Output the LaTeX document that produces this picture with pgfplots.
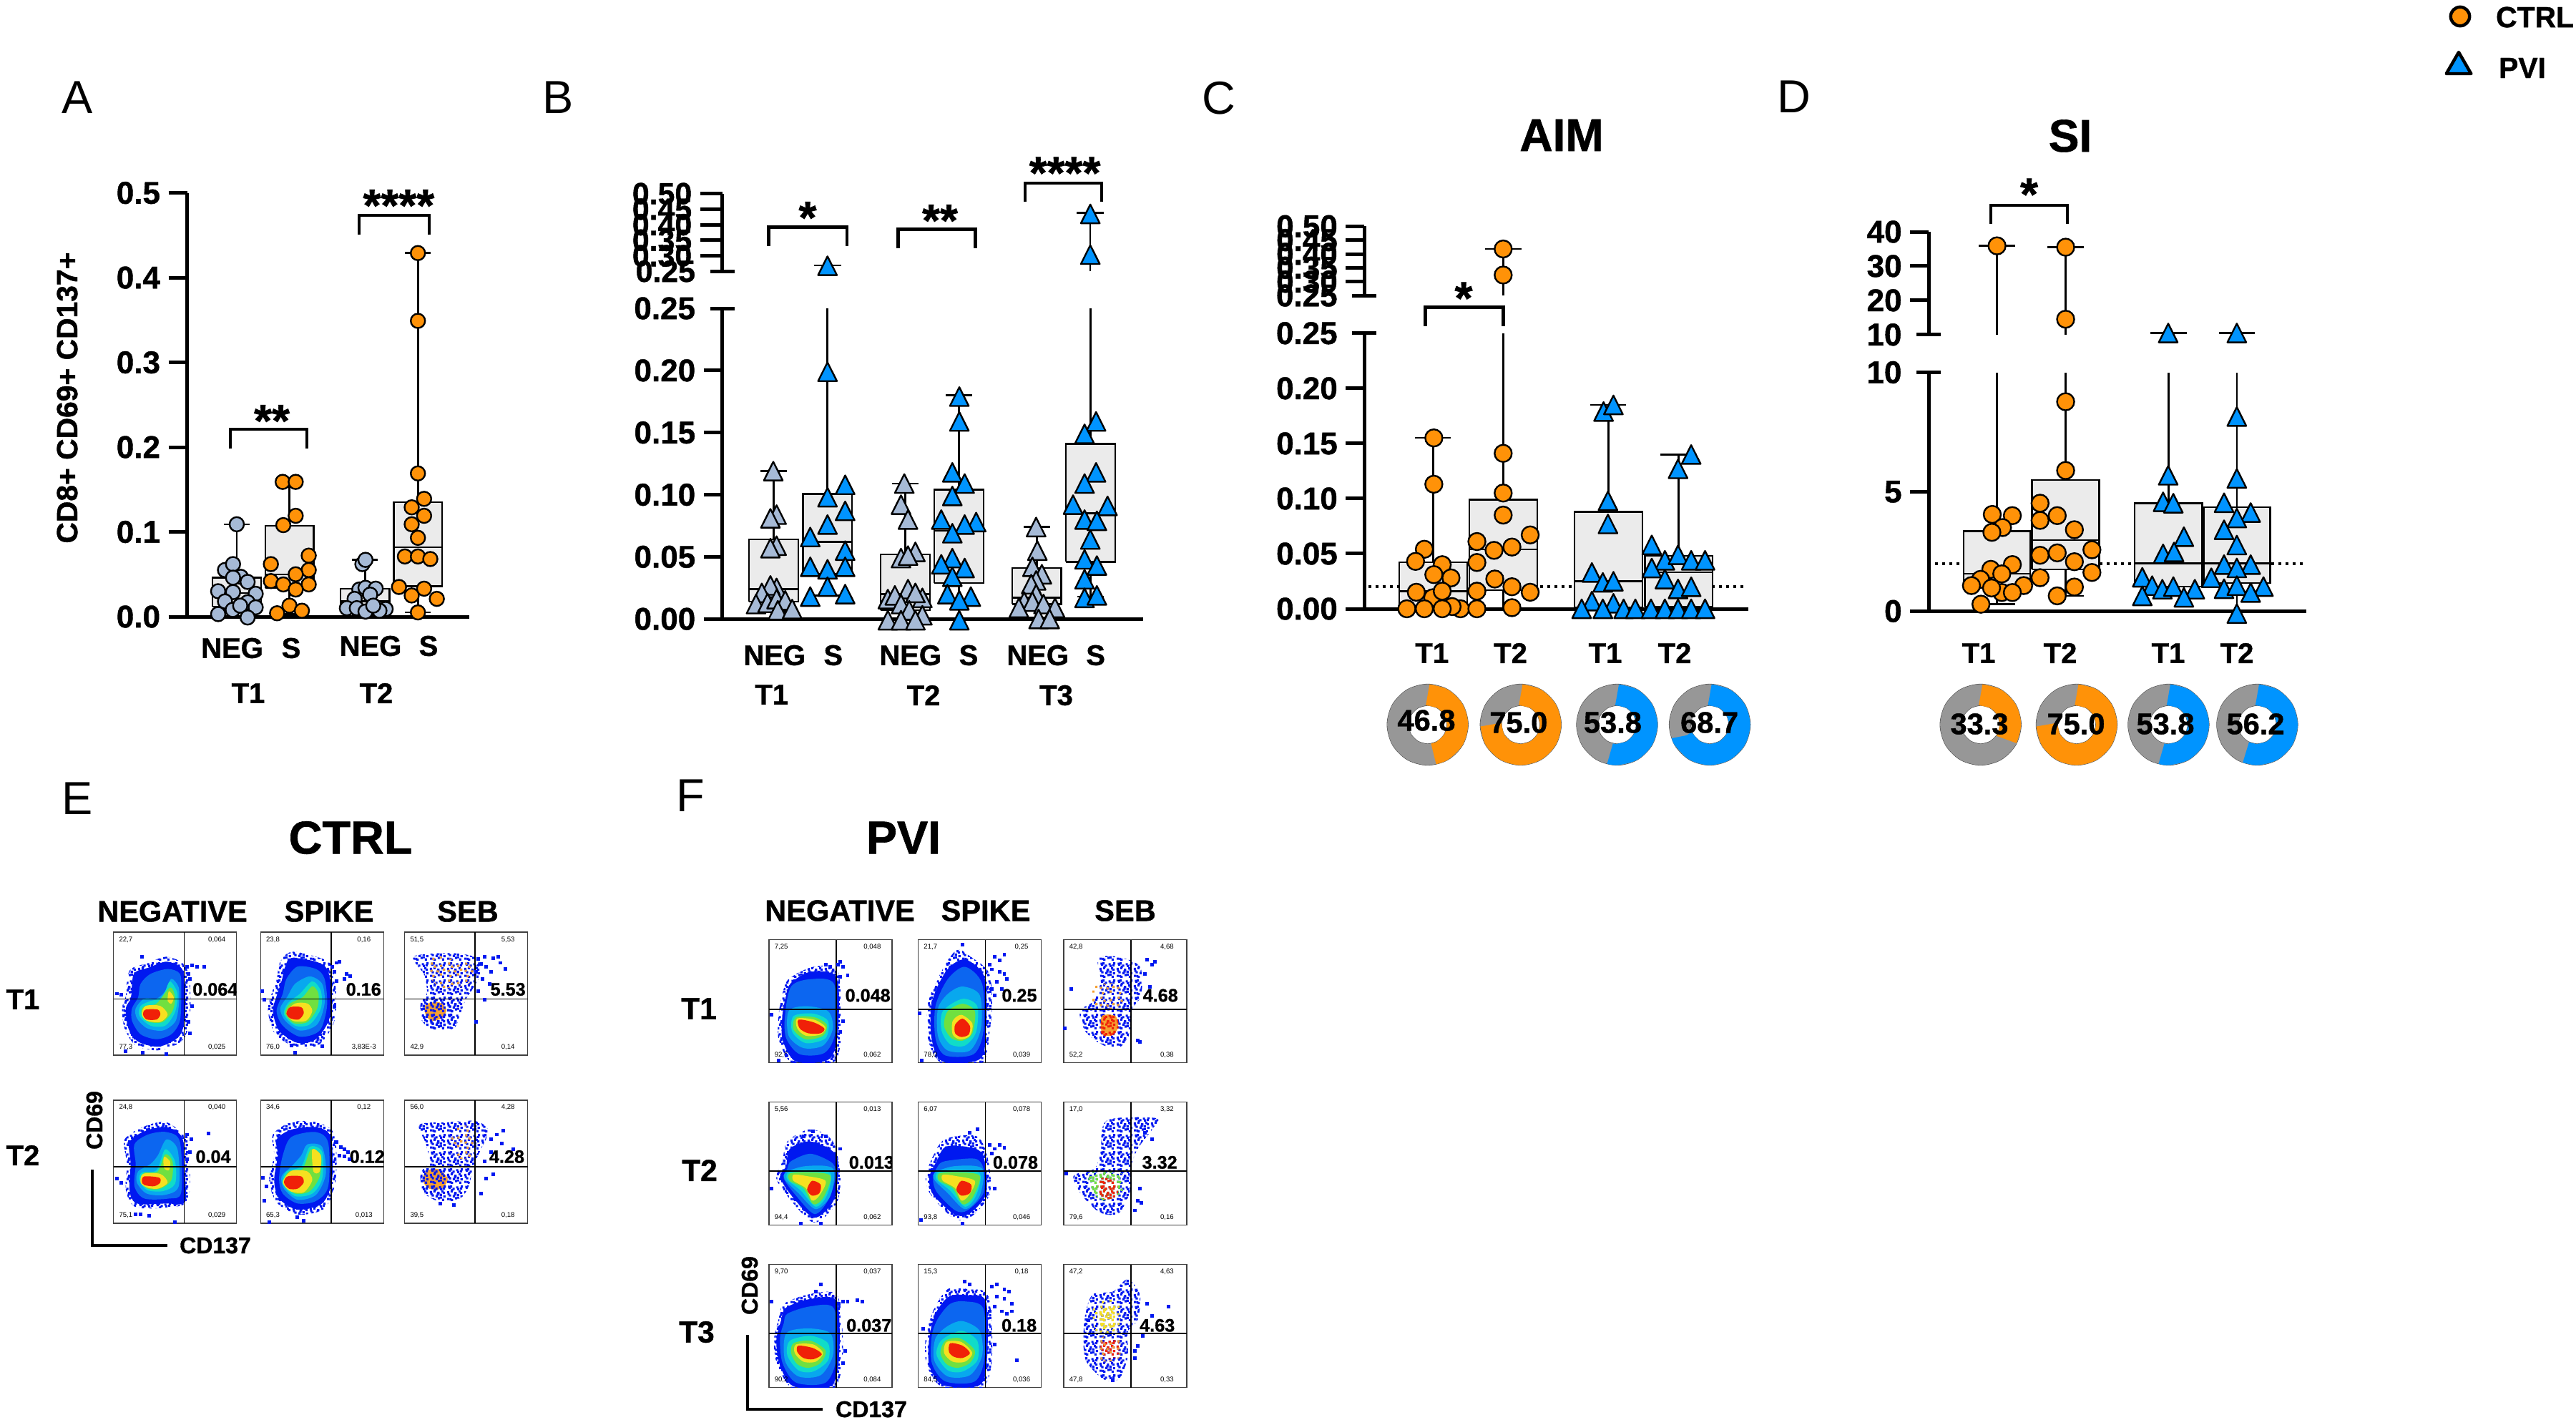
\documentclass[border=0pt]{standalone}
\usepackage{fontspec}
\setmainfont{Liberation Sans}[BoldFeatures={FakeBold=1}]
\usepackage{pgfplots}
\usepackage{pgfplotstable}
\pgfplotsset{compat=1.18}
\usetikzlibrary{patterns}

\definecolor{ctrl}{HTML}{FF9208}
\definecolor{pvi}{HTML}{0094FF}
\definecolor{slate}{HTML}{A6BAD6}
\definecolor{boxg}{HTML}{EBEBEB}
\definecolor{ringg}{HTML}{979797}
\definecolor{jb}{HTML}{0018F0}
\definecolor{mb}{HTML}{0C66F0}
\definecolor{lb}{HTML}{08A8EE}
\definecolor{cy}{HTML}{10DCC8}
\definecolor{gr}{HTML}{70E040}
\definecolor{yl}{HTML}{F6E020}
\definecolor{rd}{HTML}{F02008}
\definecolor{og}{HTML}{F5A030}

% speckle for the sparse cytometry clouds
\newcommand\sq[2]{\pgfpathrectangle{\pgfqpoint{#1pt}{#2pt}}{\pgfqpoint{.8pt}{.8pt}}}
\pgfdeclarepatternformonly{speck}{\pgfqpoint{0pt}{0pt}}{\pgfqpoint{6pt}{6pt}}{\pgfqpoint{6pt}{6pt}}{%
 \sq{.3}{.6}\sq{1.6}{.2}\sq{3.1}{.9}\sq{4.6}{.3}\sq{.9}{1.9}\sq{2.3}{1.6}\sq{3.8}{2.1}\sq{5.1}{1.5}%
 \sq{.2}{3.1}\sq{1.5}{3.4}\sq{2.9}{2.8}\sq{4.4}{3.3}\sq{.8}{4.6}\sq{2.2}{4.3}\sq{3.5}{4.8}\sq{4.9}{4.4}%
 \sq{1.3}{5.1}\sq{5.2}{5.1}\pgfusepath{fill}}
\pgfdeclarepatternformonly{speckb}{\pgfqpoint{0pt}{0pt}}{\pgfqpoint{6pt}{6pt}}{\pgfqpoint{6pt}{6pt}}{%
 \sq{1.1}{.5}\sq{3.8}{1.1}\sq{.4}{2.4}\sq{2.7}{2.2}\sq{4.9}{2.8}\sq{1.7}{3.9}\sq{3.9}{4.2}\sq{.6}{5}%
 \pgfusepath{fill}}

\newcommand\fs[1]{\fontsize{#1}{#1}\selectfont}

\pgfplotsset{
 pxat/.style 2 args={at={(#1*.25pt,-#2*.25pt)}},
 panel/.style={scale only axis,anchor=south west,clip=false,
  axis y line=left,axis x line=bottom,axis line style={-,line width=1.25pt},
  xtick=\empty,tick align=outside,major tick length=6.5pt,scaled y ticks=false,
  ytick style={line width=1.25pt,black},
  y tick label style={font=\fs{11}\bfseries,inner xsep=2.7pt,
   /pgf/number format/assume math mode=true,/pgf/number format/fixed,
   /pgf/number format/fixed zerofill}},
 top/.style={panel,axis x line=none},
 pr/.style={y tick label style={/pgf/number format/precision=#1}},
 brk/.style={extra y ticks={#1},
   extra y tick style={tick align=center,major tick length=8.5pt,
    y tick label style={xshift=-2.3pt}}},
 mk/.style n args={3}{only marks,mark=#1,mark size=#2,
   mark options={fill=#3,draw=black,line width=.6pt}},
 tri/.style={only marks,mark=triangle*,mark size=3.8pt,
   mark options={fill=#1,draw=black,line width=.6pt,yshift=-1.1pt,yscale=1.15,line join=round}},
 wh/.style={black,line width=.65pt},
 brace/.style={black,line width=1.1pt,miter limit=10},
 dotted0/.style={black,line width=1pt,dash pattern=on 1pt off 1.5pt},
 flow/.style={scale only axis,anchor=south west,width=43pt,height=43pt,
   xmin=0,xmax=100,ymin=0,ymax=100,xtick=\empty,ytick=\empty,
   axis line style={line width=.35pt,black!75}}
}

% box from its quartiles: [cap share]{centre}{width}{low}{q1}{median}{q3}{high}
\newcommand\bx[8][.53]{%
 \pgfmathsetmacro\xa{#2-#3/2}\pgfmathsetmacro\xb{#2+#3/2}%
 \pgfmathsetmacro\ca{#2-#1*#3/2}\pgfmathsetmacro\cb{#2+#1*#3/2}%
 \edef\tmp{%
  \noexpand\addplot[wh] coordinates {(#2,#4)(#2,#5)};
  \noexpand\addplot[wh] coordinates {(#2,#7)(#2,#8)};
  \noexpand\addplot[wh] coordinates {(\ca,#4)(\cb,#4)};
  \noexpand\addplot[wh] coordinates {(\ca,#8)(\cb,#8)};
  \noexpand\addplot[draw=black,fill=boxg,line width=.6pt] coordinates {(\xa,#5)(\xb,#5)(\xb,#7)(\xa,#7)(\xa,#5)};
  \noexpand\addplot[black,line width=.6pt] coordinates {(\xa,#6)(\xb,#6)};
 }\tmp}
\newcommand\cp[3]{\addplot[wh] coordinates {(#1,#3)(#2,#3)};}
\newcommand\vl[3]{\addplot[wh] coordinates {(#1,#2)(#1,#3)};}
% text placed by its pixel in the reference
\newcommand\nd[4][]{\node[#1] at (#2*.25pt,-#3*.25pt) {#4};}
\newcommand\lab[4]{\nd[font={\fs{#3}\bfseries}]{#1}{#2}{#4}}
\newcommand\sig[3]{\nd[anchor=base,yshift=2.2pt,font={\fs{16}\bfseries}]{#1}{#2}{#3}}

\newcommand\blob[2]{\addplot[fill=#1,draw=none,smooth cycle] coordinates {#2};}
\newcommand\spb[2]{\addplot[pattern=speckb,pattern color=#1,draw=none,smooth cycle] coordinates {#2};}
\newcommand\spk[2]{\addplot[pattern=speck,pattern color=#1,draw=none,smooth cycle] coordinates {#2};\spb{#1}{#2}}
\newcommand\dt[2]{\addplot[only marks,mark=square*,mark size=.42pt,color=#1] coordinates {#2};}
\newcommand\qd[7]{%
 \addplot[black,line width=.45pt] coordinates {(#1,0)(#1,100)};
 \addplot[black,line width=.45pt] coordinates {(0,#2)(100,#2)};
 \node[font=\fs{2.4}] at (10,94) {#3};
 \node[font=\fs{2.4}] at (84,94) {#4};
 \node[font=\fs{2.4}] at (10,6.5) {#5};
 \node[font=\fs{2.4}] at (84,6.5) {#6};
 \qdbig#7}
\newcommand\qdbig[3]{\node[font={\fs{6.3}\bfseries}] at (#2,#3) {#1};}

\pgfplotstableread{
a r
0 41.75
30 41.75
60 41.75
90 41.75
120 41.75
150 41.75
180 41.75
210 41.75
240 41.75
270 41.75
300 41.75
330 41.75
}\ringtab
\newcommand\donut[4]{%
\begin{axis}[hide axis,scale only axis,anchor=center,pxat={#1}{#2},width=28.25pt,height=28.25pt,
  xmin=-56.5,xmax=56.5,ymin=-56.5,ymax=56.5,clip=false]
 \addplot[data cs=polar,smooth cycle,black!70,line width=7.7pt] table[x=a,y=r] {\ringtab};
 \addplot[data cs=polar,smooth cycle,ringg,line width=7.4pt] table[x=a,y=r] {\ringtab};
 \addplot[data cs=polar,smooth,#3,line width=7.4pt] coordinates {#4};
\end{axis}}

\begin{document}
\begin{tikzpicture}
\path[use as bounding box] (0,0) rectangle (900.25pt,-498pt);

% ---------- A ----------
\begin{axis}[panel,pr=1,pxat={261.6}{862},width=98.65pt,height=148.1pt,
  xmin=465,xmax=1375,ymin=0,ymax=.5,ytick={0,.1,.2,.3,.4,.5}]
\bx{625}{156}{0}{.012}{.028}{.046}{.109}
\bx{795}{156}{.003}{.034}{.05}{.107}{.159}
\bx{1038.5}{157}{.003}{.006}{.018}{.033}{.067}
\bx{1209.5}{156}{.005}{.036}{.082}{.135}{.429}
\addplot[mk={*}{2.5pt}{slate}] coordinates {(625,.109)(587,.055)(638,.047)(613,.062)(613,.046)(660,.041)(565,.030)(613,.029)(686,.027)(587,.018)(660,.017)(686,.011)(612,.008)(636,.013)(565,.003)(660,-.001)};
\addplot[mk={*}{2.5pt}{ctrl}] coordinates {(773,.159)(815,.159)(815,.119)(775,.108)(735,.062)(857,.072)(857,.055)(815,.05)(735,.042)(775,.038)(857,.038)(815,.032)(795,.013)(755,.004)(835,.007)};
\addplot[mk={*}{2.5pt}{slate}] coordinates {(1030,.062)(1040,.067)(1020,.032)(1040,.034)(1073,.033)(1055,.026)(1005,.021)(980,.010)(1012,.010)(1105,.009)(1085,.007)(1040,.006)(1065,.013)};
\addplot[mk={*}{2.5pt}{ctrl}] coordinates {(1209,.429)(1209,.349)(1209,.169)(1229,.139)(1189,.129)(1229,.119)(1189,.109)(1209,.093)(1167,.071)(1209,.071)(1249,.068)(1148,.035)(1229,.033)(1189,.025)(1270,.021)(1209,.005)};
\addplot[brace] coordinates {(604,.198)(604,.2213)(851,.2213)(851,.198)};
\addplot[brace] coordinates {(1020,.451)(1020,.4733)(1246,.4733)(1246,.451)};
\end{axis}
\sig{380}{619}{**}
\sig{557.4}{318}{****}
\nd[rotate=90,font={\fs{10.2}\bfseries}]{94}{556}{CD8+ CD69+ CD137+}
\lab{324.5}{906}{10}{NEG}\lab{407}{906}{10}{S}\lab{518}{903}{10}{NEG}\lab{599}{903}{10}{S}
\lab{347}{969}{10}{T1}\lab{526}{969}{10}{T2}

% ---------- B ----------
\begin{axis}[panel,pr=2,pxat={1009.8}{865.2},width=147.1pt,height=108.55pt,
  xmin=470,xmax=1495,ymin=0,ymax=.25,ytick={0,.05,.1,.15,.2},brk=.25]
\bx{595}{120}{.006}{.014}{.024}{.064}{.119}
\bx[0]{726}{120}{.019}{.036}{.062}{.1007}{.25}
\cp{690}{760}{.019}
\bx{915}{120}{0}{.007}{.02}{.052}{.109}
\bx{1046}{120}{0}{.029}{.071}{.104}{.18}
\bx{1235.5}{120}{.001}{.012}{.017}{.041}{.074}
\bx[0]{1366.5}{120}{.018}{.046}{.085}{.141}{.25}
\cp{1335}{1398}{.018}
\addplot[tri=slate] coordinates {(594,.119)(602,.084)(587,.081)(602,.059)(587,.057)(602,.025)(587,.027)(566,.021)(552,.012)(580,.013)(602,.016)(623,.015)(605,.007)(640,.008)};
\addplot[tri=pvi] coordinates {(726,.199)(769,.108)(726,.098)(769,.087)(726,.076)(684,.066)(769,.055)(684,.042)(726,.040)(769,.042)(726,.026)(684,.018)(769,.020)};
\addplot[tri=slate] coordinates {(913,.109)(905,.092)(922,.080)(940,.054)(905,.049)(922,.051)(922,.024)(873,.016)(890,.019)(957,.017)(940,.021)(905,.012)(925,.007)(957,.003)(873,-.001)(905,-.001)(940,-.001)};
\addplot[tri=pvi] coordinates {(1047,.179)(1047,.159)(1030,.118)(1060,.109)(1030,.099)(1003,.080)(1088,.078)(1060,.076)(1030,.069)(1030,.049)(1003,.044)(1060,.041)(1030,.034)(1018,.020)(1075,.018)(1047,.015)(1047,-.001)};
\addplot[tri=slate] coordinates {(1234,.074)(1237,.055)(1225,.042)(1248,.036)(1234,.031)(1222,.028)(1234,.02)(1205,.014)(1225,.014)(1252,.012)(1192,.009)(1280,.009)(1240,.000)(1267,.000)};
\addplot[tri=pvi] coordinates {(1380,.159)(1352,.149)(1380,.118)(1352,.109)(1324,.092)(1408,.091)(1352,.080)(1382,.079)(1366,.064)(1352,.048)(1382,.043)(1352,.032)(1352,.017)(1382,.019)};
\end{axis}
\begin{axis}[top,pr=2,y tick label style={font=\fs{10.7}\bfseries},major tick length=7.75pt,pxat={1009.8}{379.3},width=147.1pt,height=27.15pt,
  xmin=470,xmax=1495,ymin=.25,ymax=.5,ytick={.3,.35,.4,.45,.5},brk=.25]
\vl{726}{.25}{.269}\cp{693}{760}{.269}
\vl{1366}{.25}{.438}\cp{1333}{1398}{.438}
\addplot[tri=pvi] coordinates {(726,.268)(1366,.435)(1366,.304)};
\addplot[brace] coordinates {(583,.331)(583,.392)(773,.392)(773,.331)};
\addplot[brace] coordinates {(898,.324)(898,.385)(1086,.385)(1086,.324)};
\addplot[brace] coordinates {(1207,.473)(1207,.534)(1394,.534)(1394,.473)};
\end{axis}
\sig{1129}{335}{*}\sig{1314}{339}{**}\sig{1488.6}{272.5}{****}
\lab{1082.7}{916}{10}{NEG}\lab{1164.8}{916}{10}{S}\lab{1272.7}{916}{10}{NEG}\lab{1354}{916}{10}{S}
\lab{1450.7}{916}{10}{NEG}\lab{1531.6}{916}{10}{S}
\lab{1078.7}{971}{10}{T1}\lab{1291}{972}{10}{T2}\lab{1476.5}{972}{10}{T3}

% ---------- C ----------
\begin{axis}[panel,pr=2,pxat={1907.4}{851},width=134.2pt,height=96.3pt,
  xmin=485,xmax=1537,ymin=0,ymax=.25,ytick={0,.05,.1,.15,.2},brk=.25]
\addplot[dotted0] coordinates {(495,.02)(1525,.02)};
\bx{673}{186}{0}{.002}{.016}{.042}{.155}
\bx[0]{865}{186}{.001}{.017}{.054}{.099}{.25}
\bx{1153}{186}{0}{.001}{.025}{.088}{.185}
\bx{1345.5}{185}{0}{.002}{.033}{.048}{.14}
\addplot[mk={*}{3pt}{ctrl}] coordinates {(675,.155)(675,.113)(649,.054)(625,.043)(698,.040)(722,.028)(675,.031)(627,.015)(672,.01)(698,.016)(748,0)(725,.002)(601,0)(649,0)(698,0)};
\addplot[mk={*}{3pt}{ctrl}] coordinates {(865,.141)(865,.105)(865,.085)(793,.061)(939,.067)(840,.053)(889,.056)(793,.042)(842,.027)(793,.016)(889,.020)(939,.015)(793,0)(889,.001)};
\addplot[tri=pvi] coordinates {(1140,.179)(1167,.185)(1152,.098)(1152,.077)(1108,.033)(1138,.024)(1167,.025)(1108,.007)(1167,.005)(1080,0)(1138,0)(1195,0)(1227,0)};
\addplot[tri=pvi] coordinates {(1380,.14)(1344,.127)(1272,.058)(1308,.044)(1344,.049)(1380,.044)(1418,.044)(1272,.037)(1308,.027)(1344,.018)(1380,.020)(1270,0)(1308,0)(1344,0)(1380,0)(1418,0)};
\addplot[brace] coordinates {(652,.2563)(652,.2736)(865,.2736)(865,.2563)};
\end{axis}
\begin{axis}[top,pr=2,pxat={1907.4}{413.1},width=134.2pt,height=24.2pt,
  xmin=485,xmax=1537,ymin=.25,ymax=.5,ytick={.3,.35,.4,.45,.5},brk=.25]
\vl{865}{.25}{.418}\cp{815}{915}{.418}
\addplot[mk={*}{3pt}{ctrl}] coordinates {(865,.418)(865,.324)};
\end{axis}
\sig{2046}{447.5}{*}
\lab{2001.8}{913}{10}{T1}\lab{2111.5}{913}{10}{T2}\lab{2244}{913}{10}{T1}\lab{2341}{913}{10}{T2}
\donut{1995.7}{1013}{ctrl}{(90,41.75)(60,41.75)(30,41.75)(0,41.75)(-30,41.75)(-60,41.75)(-78.5,41.75)}
\donut{2125.8}{1013}{ctrl}{(90,41.75)(60,41.75)(30,41.75)(0,41.75)(-30,41.75)(-60,41.75)(-90,41.75)(-120,41.75)(-150,41.75)(-180,41.75)}
\donut{2260.5}{1013}{pvi}{(90,41.75)(60,41.75)(30,41.75)(0,41.75)(-30,41.75)(-60,41.75)(-90,41.75)(-103.7,41.75)}
\donut{2390.1}{1013}{pvi}{(90,41.75)(60,41.75)(30,41.75)(0,41.75)(-30,41.75)(-60,41.75)(-90,41.75)(-120,41.75)(-150,41.75)(-157.3,41.75)}
\lab{1994}{1007}{10.4}{46.8}\lab{2122.8}{1010}{10.4}{75.0}\lab{2254.4}{1010}{10.4}{53.8}\lab{2389.6}{1010}{10.4}{68.7}

% ---------- D ----------
\begin{axis}[panel,pr=0,pxat={2696.2}{854.3},width=131.9pt,height=83.45pt,
  xmin=463,xmax=1497,ymin=0,ymax=10,ytick={0,5},brk=10]
\addplot[dotted0] coordinates {(480,2)(1490,2)};
\bx[0]{650}{182}{.29}{1.03}{1.56}{3.35}{10}
\cp{605}{700}{.29}
\bx[0]{838}{184}{.64}{1.75}{2.98}{5.5}{10}
\cp{838}{888}{.64}
\bx[0]{1119.5}{185}{.68}{1.03}{2}{4.52}{10}
\cp{1075}{1165}{.68}
\bx[0]{1307.5}{181}{0}{1.17}{2}{4.35}{10}
\addplot[mk={*}{3pt}{ctrl}] coordinates {(637,4.05)(692,4.0)(665,3.5)(636,3.3)(692,1.95)(633,1.75)(605,1.33)(663,1.56)(580,1.07)(723,1.07)(663,.78)(635,.97)(692,.78)(606,.29)};
\addplot[mk={*}{3pt}{ctrl}] coordinates {(838,8.77)(838,5.89)(768,4.52)(768,3.8)(815,4.0)(862,3.41)(768,2.34)(815,2.44)(910,2.57)(862,2.07)(768,1.4)(910,1.62)(862,1.01)(815,.64)};
\addplot[tri=pvi] coordinates {(1119,5.69)(1105,4.58)(1133,4.52)(1162,3.12)(1105,2.4)(1135,2.48)(1048,1.42)(1075,1.07)(1103,.92)(1133,1.03)(1192,.92)(1048,.64)(1162,.58)};
\addplot[tri=pvi] coordinates {(1307,8.15)(1307,5.56)(1272,4.54)(1345,4.13)(1307,3.9)(1272,3.41)(1307,2.77)(1272,1.95)(1345,1.95)(1307,1.81)(1237,1.4)(1272,.94)(1307,1.07)(1380,1.03)(1345,.78)(1307,-.1)};
\end{axis}
\begin{axis}[top,pr=0,pxat={2696.2}{467.8},width=131.9pt,height=35.95pt,
  xmin=463,xmax=1497,ymin=10,ymax=40,ytick={20,30,40},brk=10]
\vl{650}{10}{35.9}\cp{600}{700}{35.9}
\vl{838}{10}{35.5}\cp{788}{888}{35.5}
\vl{1119}{10}{10.5}\cp{1070}{1170}{10.5}
\vl{1307}{10}{10.5}\cp{1258}{1357}{10.5}
\addplot[mk={*}{3pt}{ctrl}] coordinates {(650,35.9)(838,35.5)(838,14.5)};
\addplot[tri=pvi] coordinates {(1119,10.5)(1307,10.5)};
\addplot[brace] coordinates {(633,42.4)(633,47.7)(843,47.7)(843,42.4)};
\end{axis}
\sig{2836.5}{302.4}{*}
\lab{2766}{913}{10}{T1}\lab{2880}{913}{10}{T2}\lab{3031}{913}{10}{T1}\lab{3127}{913}{10}{T2}
\donut{2768.7}{1013}{ctrl}{(90,41.75)(60,41.75)(30,41.75)(0,41.75)(-29.9,41.75)}
\donut{2902.9}{1013}{ctrl}{(90,41.75)(60,41.75)(30,41.75)(0,41.75)(-30,41.75)(-60,41.75)(-90,41.75)(-120,41.75)(-150,41.75)(-180,41.75)}
\donut{3031.4}{1013}{pvi}{(90,41.75)(60,41.75)(30,41.75)(0,41.75)(-30,41.75)(-60,41.75)(-90,41.75)(-103.7,41.75)}
\donut{3155.4}{1013}{pvi}{(90,41.75)(60,41.75)(30,41.75)(0,41.75)(-30,41.75)(-60,41.75)(-90,41.75)(-112.3,41.75)}
\lab{2767}{1012}{10.4}{33.3}\lab{2902}{1012}{10.4}{75.0}\lab{3027}{1012}{10.4}{53.8}\lab{3153}{1012}{10.4}{56.2}

% ---------- legend ----------
\begin{axis}[hide axis,scale only axis,anchor=south west,pxat={3400}{120},width=20pt,height=30pt,
  xmin=3400,xmax=3480,ymin=0,ymax=120,y dir=reverse,clip=false]
\addplot[only marks,mark=*,mark size=3.3pt,mark options={fill=ctrl,draw=black,line width=1.1pt}] coordinates {(3439,23)};
\addplot[only marks,mark=triangle*,mark size=5pt,mark options={fill=pvi,draw=black,line width=1.1pt,line join=round}] coordinates {(3437,93)};
\end{axis}
\nd[anchor=west,font={\fs{10.2}\bfseries}]{3475}{24}{CTRL}
\nd[anchor=west,font={\fs{10.2}\bfseries}]{3479}{95}{PVI}

% ---------- panel letters and titles ----------
\nd[font=\fs{16.2}]{108}{136}{A}
\nd[font=\fs{16.2}]{780}{136}{B}
\nd[font=\fs{16.2}]{1704}{137}{C}
\nd[font=\fs{16.2}]{2508}{135}{D}
\nd[font=\fs{16.2}]{108}{1116}{E}
\nd[font=\fs{16.2}]{965}{1112}{F}
\lab{2183}{189}{16}{AIM}\lab{2894}{190}{16}{SI}
\lab{490}{1171}{16.2}{CTRL}\lab{1263}{1171}{16.2}{PVI}
\lab{241}{1274}{10.4}{NEGATIVE}\lab{460}{1274}{10.4}{SPIKE}\lab{654}{1274}{10.4}{SEB}
\lab{1174}{1273}{10.4}{NEGATIVE}\lab{1378}{1273}{10.4}{SPIKE}\lab{1573}{1273}{10.4}{SEB}
\lab{32}{1397}{10}{T1}\lab{32}{1615}{10}{T2}
\lab{977}{1410}{10.6}{T1}\lab{978}{1636}{10.6}{T2}\lab{974}{1862}{10.6}{T3}
\nd[rotate=90,font={\fs{8}\bfseries}]{132}{1566}{CD69}
\lab{301}{1741}{8}{CD137}
\nd[rotate=90,font={\fs{8}\bfseries}]{1048}{1797}{CD69}
\lab{1218}{1970}{8}{CD137}
\begin{axis}[hide axis,scale only axis,anchor=south west,pxat={129}{1741},width=26.25pt,height=26.5pt,
  xmin=129,xmax=234,ymin=0,ymax=106,clip=false]
\addplot[black,line width=.9pt] coordinates {(129,106)(129,0)(234,0)};
\end{axis}
\begin{axis}[hide axis,scale only axis,anchor=south west,pxat={1045}{1970},width=26.25pt,height=26pt,
  xmin=1045,xmax=1150,ymin=0,ymax=104,clip=false]
\addplot[black,line width=.9pt] coordinates {(1045,104)(1045,0)(1150,0)};
\end{axis}

% ---------- E: CTRL cytometry ----------
\begin{axis}[flow,pxat={158.7}{1475}]
\spk{jb}{(43,80)(57,74)(62,60)(62,30)(56,12)(37,4)(18,8)(9,22)(7,38)(10,48)(11,60)(14,70)(28,75)}
\blob{jb}{(43,76)(55,71)(58,59)(58,30)(53,15)(37,7)(20,11)(12,22)(10,38)(14,46)(15,57)(17,67)(28,71)}
\blob{mb}{(44,70)(54,66)(55,50)(54,28)(47,17)(35,13)(22,17)(15,28)(15,38)(20,47)(22,58)(30,66)}
\blob{lb}{(47,62)(53,55)(53,40)(50,27)(40,20)(27,22)(19,30)(18,38)(25,46)(35,46)(42,52)}
\blob{cy}{(46,60)(52,50)(50,35)(42,24)(30,24)(21,32)(22,40)(30,44)(38,46)(42,52)}
\blob{gr}{(46,55)(50,47)(48,36)(40,27)(29,27)(23,33)(24,39)(35,42)}
\blob{yl}{(26,40)(38,40)(44,33)(38,27)(27,28)(23,33)}
\blob{yl}{(45,52)(49,47)(47,42)(44,44)}
\blob{rd}{(26,37)(36,37)(38,33)(35,29)(27,29)(24,33)}
\dt{jb}{(23,80)(60,72)(64,73)(68,72)(74,72)(61,66)(62,62)(3,50)(6,49)(61,27)(64,40)(62,18)(10,3)(24,2)(43,1)}
\qd{57.5}{45.7}{22,7}{0,064}{77,3}{0,025}{{0.064}{82.6}{53.5}}
\end{axis}
\begin{axis}[flow,pxat={364.3}{1475}]
\spk{jb}{(25,84)(45,80)(57,74)(61,55)(60,28)(48,9)(30,6)(12,17)(6,36)(9,50)(13,62)(16,76)}
\blob{jb}{(25,79)(45,76)(54,70)(57,55)(56,30)(45,13)(30,10)(15,20)(10,36)(13,48)(17,60)(20,72)}
\blob{mb}{(30,72)(45,70)(52,62)(54,40)(48,20)(32,15)(18,24)(13,36)(18,50)(21,62)}
\blob{lb}{(40,64)(50,58)(52,42)(46,25)(32,20)(20,28)(16,38)(22,48)(28,58)}
\blob{cy}{(42,60)(49,52)(49,38)(40,25)(28,24)(19,33)(22,42)(32,50)}
\blob{gr}{(42,56)(47,50)(46,38)(38,27)(27,26)(20,34)(24,42)(34,47)}
\blob{yl}{(28,42)(38,42)(42,36)(37,28)(26,28)(21,35)}
\blob{rd}{(24,39)(33,39)(35,34)(31,29)(24,30)(21,34)}
\dt{jb}{(58,72)(62,75)(64,76)(60,68)(70,66)(73,64)(68,62)(62,60)(1,52)(3,45)(60,40)(28,2)(50,7)(25,8)}
\qd{57.3}{45.7}{23,8}{0,16}{76,0}{3,83E-3}{{0.16}{83.7}{53.5}}
\end{axis}
\begin{axis}[flow,pxat={565.7}{1475}]
\spk{jb}{(9,81)(35,83)(56,80)(62,68)(56,55)(50,46)(45,33)(40,22)(25,20)(14,28)(13,42)(18,50)(16,65)(8,76)}
\spb{og}{(20,80)(40,78)(56,72)(52,58)(30,55)(20,65)}
\blob{og}{(17,41)(28,43)(34,37)(30,30)(22,28)(17,33)}
\spk{jb}{(15,45)(34,45)(40,34)(32,22)(18,24)(14,34)}
\dt{jb}{(60,78)(65,80)(72,79)(78,75)(82,70)(66,72)(70,68)(63,62)(69,58)(65,45)(60,52)(76,80)(58,68)(62,74)(58,27)}
\qd{57.3}{45.7}{51,5}{5,53}{42,9}{0,14}{{5.53}{84}{53.5}}
\end{axis}
\begin{axis}[flow,pxat={158.7}{1709.8}]
\spk{jb}{(43,82)(57,72)(61,66)(61,20)(45,13)(18,13)(10,27)(11,48)(9,68)(26,79)}
\blob{jb}{(43,78)(56,69)(58,40)(58,17)(43,16)(19,16)(13,27)(14,48)(13,66)(26,75)}
\blob{mb}{(43,74)(54,66)(55,25)(45,20)(25,20)(17,30)(18,48)(17,64)(28,72)}
\blob{lb}{(43,68)(52,60)(53,30)(42,23)(27,24)(19,33)(20,42)(30,48)(36,55)}
\blob{cy}{(42,60)(50,50)(50,32)(40,26)(27,27)(21,35)(23,41)(35,43)}
\blob{gr}{(42,56)(48,50)(47,35)(38,28)(28,28)(23,34)(25,41)(36,42)}
\blob{yl}{(24,40)(38,40)(44,33)(36,28)(27,29)(22,33)}
\blob{yl}{(41,54)(46,50)(45,43)(41,45)}
\blob{rd}{(25,38)(37,37)(38,33)(33,30)(25,31)(23,34)}
\dt{jb}{(60,72)(63,68)(77,73)(62,58)(60,52)(3,36)(6,33)(18,7)(22,7)(29,6)(50,1)}
\qd{57.5}{45.6}{24,8}{0,040}{75,1}{0,029}{{0.04}{81}{54}}
\end{axis}
\begin{axis}[flow,pxat={364.3}{1709.8}]
\spk{jb}{(25,82)(45,82)(60,72)(61,35)(52,12)(30,7)(13,17)(7,35)(11,55)(10,72)}
\blob{jb}{(25,76)(45,78)(57,70)(58,35)(50,16)(30,11)(15,20)(11,35)(14,55)(13,68)}
\blob{mb}{(25,70)(45,74)(55,65)(55,30)(45,18)(30,16)(18,24)(15,36)(18,55)}
\blob{lb}{(38,64)(50,62)(53,40)(45,23)(30,19)(19,28)(17,38)(25,46)(33,55)}
\blob{cy}{(40,62)(50,58)(50,36)(42,24)(28,22)(18,32)(21,42)(33,46)}
\blob{gr}{(41,60)(49,55)(48,38)(40,26)(28,24)(19,33)(23,42)(34,44)}
\blob{yl}{(27,43)(38,42)(42,35)(35,25)(24,26)(18,33)(22,40)}
\blob{yl}{(42,60)(49,55)(48,42)(43,42)}
\blob{rd}{(22,38)(33,38)(35,33)(30,28)(23,28)(19,33)}
\dt{jb}{(62,66)(65,62)(68,60)(71,58)(68,54)(64,55)(72,52)(2,37)(5,30)(3,18)(30,5)(7,1)(35,2)}
\qd{57.3}{45.6}{34,6}{0,12}{65,3}{0,013}{{0.12}{86.6}{54}}
\end{axis}
\begin{axis}[flow,pxat={565.7}{1709.8}]
\spk{jb}{(12,80)(35,82)(58,83)(68,75)(62,60)(56,47)(52,30)(45,20)(30,17)(15,25)(13,40)(20,50)(17,65)}
\spb{og}{(42,78)(52,78)(57,60)(50,52)(40,55)(38,68)}
\blob{og}{(17,42)(27,44)(35,36)(30,28)(20,28)(15,34)}
\spk{jb}{(15,44)(32,45)(38,34)(30,24)(16,26)}
\dt{jb}{(75,72)(80,75)(79,65)(88,60)(70,58)(72,40)(66,36)(62,24)(70,68)(65,50)(40,15)(29,16)}
\qd{57.3}{45.6}{56,0}{4,28}{39,5}{0,18}{{4.28}{83}{54}}
\end{axis}

% ---------- F: PVI cytometry ----------
\begin{axis}[flow,pxat={1074.9}{1485.7}]
\spk{jb}{(16,68)(36,78)(56,74)(59,26)(52,0)(20,-1)(8,19)(8,40)(11,56)}
\blob{jb}{(18,65)(34,74)(55,69)(56,26)(49,3)(22,1)(11,19)(11,39)(14,55)}
\blob{mb}{(18,62)(34,68)(53,64)(54,25)(45,8)(25,7)(14,20)(13,38)}
\blob{lb}{(16,42)(30,46)(48,42)(52,28)(44,14)(28,12)(16,22)}
\blob{cy}{(20,38)(36,40)(48,34)(46,20)(30,16)(19,25)}
\blob{gr}{(22,37)(37,37)(47,31)(44,22)(30,19)(20,27)}
\blob{yl}{(23,36)(37,35)(46,29)(42,23)(30,22)(23,28)}
\blob{rd}{(24,35)(36,33)(45,28)(42,24)(32,24)(25,28)}
\dt{jb}{(58,82)(60,78)(56,80)(64,71)(58,70)(46,80)(50,78)(2,39)(58,25)(60,34)(8,2)(14,6)}
\qd{54.6}{43.6}{7,25}{0,048}{92,6}{0,062}{{0.048}{80.4}{54.8}}
\end{axis}
\begin{axis}[flow,pxat={1283.6}{1485.7}]
\spk{jb}{(32,92)(40,88)(57,74)(60,50)(58,25)(52,0)(20,-1)(8,19)(8,49)(22,80)}
\blob{jb}{(38,84)(54,69)(55,26)(50,3)(20,1)(11,19)(11,49)(23,75)}
\blob{mb}{(38,78)(52,64)(53,26)(45,7)(22,6)(14,20)(14,46)(24,68)}
\blob{lb}{(36,62)(50,55)(51,28)(42,10)(24,10)(16,22)(16,44)(24,56)}
\blob{cy}{(36,52)(48,46)(47,25)(38,14)(26,15)(19,26)(20,42)}
\blob{gr}{(36,48)(46,42)(44,24)(36,18)(27,20)(21,30)(24,42)}
\blob{yl}{(35,39)(44,32)(42,22)(34,19)(28,23)(28,34)}
\blob{rd}{(36,36)(42,30)(41,23)(35,21)(30,24)(30,31)}
\dt{jb}{(58,80)(62,86)(66,83)(60,76)(66,74)(70,72)(72,68)(64,66)(60,60)(68,60)(62,55)(70,88)(1,40)(3,2)(36,96)}
\qd{54.6}{43.6}{21,7}{0,25}{78,0}{0,039}{{0.25}{82.2}{54.8}}
\end{axis}
\begin{axis}[flow,pxat={1487}{1485.7}]
\spk{jb}{(28,85)(45,86)(62,78)(63,55)(56,44)(54,25)(46,13)(33,14)(18,25)(13,42)(24,50)(30,66)}
\spb{og}{(25,62)(45,64)(50,50)(40,44)(24,46)}
\blob{og}{(31,38)(42,38)(44,28)(38,22)(31,24)}
\spk{rd}{(32,38)(43,37)(44,26)(36,21)(30,25)}
\dt{jb}{(68,84)(72,80)(66,72)(70,62)(74,82)(6,60)(60,18)(62,17)(1,28)}
\qd{54.6}{43.6}{42,8}{4,68}{52,2}{0,38}{{4.68}{78.6}{54.8}}
\end{axis}
\begin{axis}[flow,pxat={1074.9}{1712.6}]
\spk{jb}{(15,68)(34,78)(52,68)(58,40)(55,18)(37,2)(18,20)(6,38)(11,52)}
\blob{jb}{(17,62)(34,68)(54,58)(56,39)(52,19)(37,6)(20,22)(9,39)(14,48)}
\blob{mb}{(18,52)(34,58)(52,50)(54,38)(48,20)(37,9)(22,24)(12,38)(15,46)}
\blob{lb}{(14,43)(30,48)(52,46)(50,24)(38,13)(24,26)(13,37)}
\blob{cy}{(16,43)(30,45)(50,42)(47,24)(38,15)(26,28)(15,37)}
\blob{gr}{(17,42)(32,43)(50,40)(44,22)(36,17)(28,30)(17,36)}
\blob{yl}{(20,41)(30,40)(46,36)(41,24)(35,20)(30,30)(20,36)}
\blob{rd}{(35,36)(42,33)(41,26)(35,24)(31,29)}
\dt{jb}{(58,62)(46,72)(36,76)(28,72)(2,30)(26,1)(42,1)}
\qd{54.6}{43.8}{5,56}{0,013}{94,4}{0,062}{{0.013}{83.4}{51}}
\end{axis}
\begin{axis}[flow,pxat={1283.6}{1712.6}]
\spk{jb}{(22,70)(48,72)(57,52)(58,25)(42,6)(28,6)(10,25)(6,39)(12,56)}
\blob{jb}{(23,64)(47,62)(54,52)(55,25)(41,9)(29,9)(12,25)(9,39)(15,52)}
\blob{mb}{(22,52)(46,54)(53,46)(53,26)(40,12)(30,12)(15,27)(12,38)(16,48)}
\blob{lb}{(14,43)(30,48)(52,46)(50,24)(38,13)(24,26)(13,37)}
\blob{cy}{(16,43)(30,45)(50,42)(47,24)(38,15)(26,28)(15,37)}
\blob{gr}{(17,42)(32,43)(50,40)(44,22)(36,17)(28,30)(17,36)}
\blob{yl}{(20,41)(30,40)(46,36)(41,24)(35,20)(30,30)(20,36)}
\blob{rd}{(35,36)(43,33)(42,26)(35,24)(31,29)}
\dt{jb}{(42,75)(48,78)(58,65)(62,62)(66,65)(70,63)(60,58)(62,30)(2,4)(36,1)}
\qd{54.6}{43.8}{6,07}{0,078}{93,8}{0,046}{{0.078}{79}{51}}
\end{axis}
\begin{axis}[flow,pxat={1487}{1712.6}]
\spk{jb}{(35,85)(75,87)(72,78)(60,62)(54,45)(54,28)(45,10)(30,10)(15,24)(8,40)(25,46)(30,60)}
\spb{gr}{(18,40)(30,44)(47,42)(48,28)(38,18)(25,22)}
\spk{gr}{(20,38)(32,42)(45,40)(45,28)(37,20)(26,24)}
\spk{rd}{(30,38)(42,36)(44,26)(36,20)(28,26)}
\dt{jb}{(62,30)(60,20)(63,18)(58,12)(2,42)(72,70)(66,75)}
\qd{54.6}{43.8}{17,0}{3,32}{79,6}{0,16}{{3.32}{78}{51}}
\end{axis}
\begin{axis}[flow,pxat={1074.9}{1939.6}]
\spk{jb}{(12,68)(34,76)(56,74)(60,25)(52,-1)(20,-1)(7,18)(4,38)(8,56)}
\blob{jb}{(14,65)(34,72)(55,70)(57,25)(50,1)(20,1)(9,18)(6,38)(10,55)}
\blob{mb}{(15,60)(34,66)(53,64)(55,25)(46,4)(22,4)(11,20)(9,40)(12,52)}
\blob{lb}{(14,44)(32,48)(50,44)(52,26)(42,10)(24,9)(13,22)}
\blob{cy}{(17,38)(34,42)(48,36)(48,22)(36,13)(24,14)(15,26)}
\blob{gr}{(20,36)(34,38)(46,30)(42,20)(32,16)(23,19)(18,28)}
\blob{yl}{(22,35)(36,35)(44,28)(38,21)(28,21)(21,28)}
\blob{rd}{(24,34)(36,32)(43,27)(36,23)(28,24)(23,29)}
\dt{jb}{(42,84)(38,78)(60,70)(64,70)(72,71)(76,70)(57,68)(2,70)(60,20)(62,30)}
\qd{54.6}{43.8}{9,70}{0,037}{90,2}{0,084}{{0.037}{81.3}{50.5}}
\end{axis}
\begin{axis}[flow,pxat={1283.6}{1939.6}]
\spk{jb}{(24,80)(40,80)(57,74)(60,25)(52,0)(20,0)(7,18)(6,40)(12,62)}
\blob{jb}{(25,74)(40,75)(55,70)(56,25)(50,2)(20,2)(9,18)(9,40)(14,60)}
\blob{mb}{(26,68)(38,70)(53,64)(54,25)(46,5)(22,5)(11,20)(11,42)(16,56)}
\blob{lb}{(24,50)(36,54)(50,46)(52,26)(42,10)(24,9)(13,22)(14,40)}
\blob{cy}{(24,42)(36,46)(48,38)(48,22)(36,13)(24,14)(15,26)(17,36)}
\blob{gr}{(22,38)(34,40)(46,30)(42,20)(32,16)(23,19)(18,28)}
\blob{yl}{(23,37)(35,37)(44,28)(38,21)(28,21)(21,28)}
\blob{rd}{(26,36)(36,34)(42,28)(36,24)(29,25)(25,29)}
\dt{jb}{(38,86)(42,84)(60,82)(64,84)(70,80)(74,78)(64,74)(70,72)(76,68)(62,66)(68,62)(72,60)(58,62)(80,22)(4,48)(62,35)(76,62)}
\qd{54.6}{43.8}{15,3}{0,18}{84,5}{0,036}{{0.18}{82}{50.5}}
\end{axis}
\begin{axis}[flow,pxat={1487}{1939.6}]
\spk{jb}{(24,76)(40,78)(52,88)(62,75)(60,55)(52,45)(52,25)(45,7)(32,7)(18,22)(16,42)(18,62)}
\spb{yl}{(25,68)(44,70)(44,46)(26,46)}
\spk{yl}{(28,62)(42,66)(42,50)(30,48)}
\spk{rd}{(30,36)(44,38)(44,26)(34,24)}
\spb{og}{(29,40)(45,40)(45,24)(30,22)}
\dt{jb}{(68,68)(72,58)(85,66)(64,42)(60,34)(58,30)(58,24)(40,6)(20,55)}
\qd{54.6}{43.8}{47,2}{4,63}{47,8}{0,33}{{4.63}{76}{50.5}}
\end{axis}
\end{tikzpicture}
\end{document}
